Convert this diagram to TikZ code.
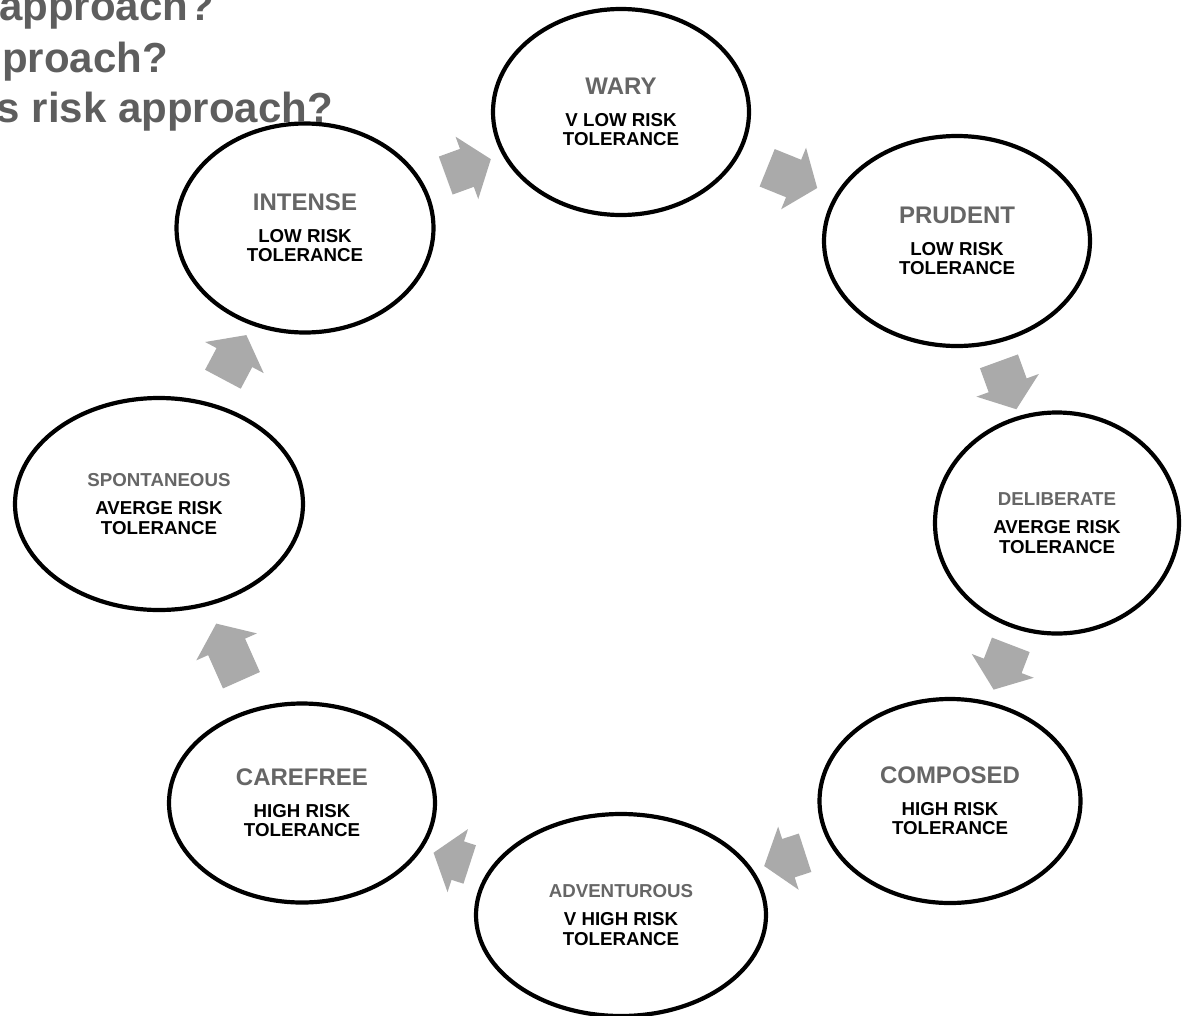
\documentclass[tikz,border=0pt]{standalone}
\usepackage{fontspec}
\setmainfont{Liberation Sans}
\usetikzlibrary{shapes.geometric,shapes.arrows}
\definecolor{titleGray}{HTML}{666666}
\definecolor{askGray}{HTML}{5E5E5E}
\definecolor{arrowGray}{HTML}{AAAAAA}
\tikzset{
    mood/.style={ellipse,draw=black,line width=4.2pt,fill=white,inner sep=0pt,
        align=center,font=\bfseries\fontsize{18.7}{19.5}\selectfont},
    push/.style={single arrow,draw=none,fill=arrowGray,inner xsep=0pt,inner ysep=20pt,
        single arrow head extend=13pt,single arrow tip angle=105,minimum height=48pt},
    ask/.style={anchor=base east,inner sep=0pt,text=askGray,
        font=\bfseries\fontsize{42}{42}\selectfont}
}
\newcommand{\bigname}[1]{{\fontsize{24}{24}\selectfont\textcolor{titleGray}{#1}}\\[12pt]}
\newcommand{\smallname}[1]{\textcolor{titleGray}{#1}\\[8.5pt]}

\begin{document}
\begin{tikzpicture}[x=1pt,y=-1pt]
    \clip (0,0) rectangle (1191,1015);

    % the eight moods, clockwise from the top
    \node[mood,minimum width=256pt,minimum height=206pt] (wary) at (621,112)
        {\bigname{WARY}V LOW RISK\\TOLERANCE};
    \node[mood,minimum width=266pt,minimum height=210pt] (prudent) at (957,241)
        {\bigname{PRUDENT}LOW RISK\\TOLERANCE};
    \node[mood,minimum width=244pt,minimum height=221pt] (deliberate) at (1057,523)
        {\smallname{DELIBERATE}AVERGE RISK\\TOLERANCE};
    \node[mood,minimum width=261pt,minimum height=204pt] (composed) at (950,801)
        {\bigname{COMPOSED}HIGH RISK\\TOLERANCE};
    \node[mood,minimum width=290pt,minimum height=202pt] (adventurous) at (621,915)
        {\smallname{ADVENTUROUS}V HIGH RISK\\TOLERANCE};
    \node[mood,minimum width=266pt,minimum height=199pt] (carefree) at (302,803)
        {\bigname{CAREFREE}HIGH RISK\\TOLERANCE};
    \node[mood,minimum width=288pt,minimum height=212pt] (spontaneous) at (159,504)
        {\smallname{SPONTANEOUS}AVERGE RISK\\TOLERANCE};
    \node[mood,minimum width=257pt,minimum height=209pt] (intense) at (305,228)
        {\bigname{INTENSE}LOW RISK\\TOLERANCE};

    % block arrows between them
    \node[push,rotate=20] (p1) at (461,170) {};
    \node[push,rotate=-22,minimum height=54pt] (p2) at (785,175) {};
    \node[push,rotate=-70,minimum height=51pt] (p3) at (1005,378) {};
    \node[push,rotate=-111] (p4) at (1005,660) {};
    \node[push,rotate=-162,minimum height=43pt] (p5) at (792,857) {};
    \node[push,rotate=162,minimum height=38pt] (p6) at (459,861) {};
    \node[push,rotate=114,minimum height=62pt] (p7) at (232,659) {};
    \node[push,rotate=62,minimum height=50pt] (p8) at (231,364) {};

    % heading, cut off at the left edge
    \node[ask] (q1) at (214,20) {approach?};
    \node[ask] (q2) at (168,72) {approach?};
    \node[ask] (q3) at (333,122) {s risk approach?};
\end{tikzpicture}
\end{document}
